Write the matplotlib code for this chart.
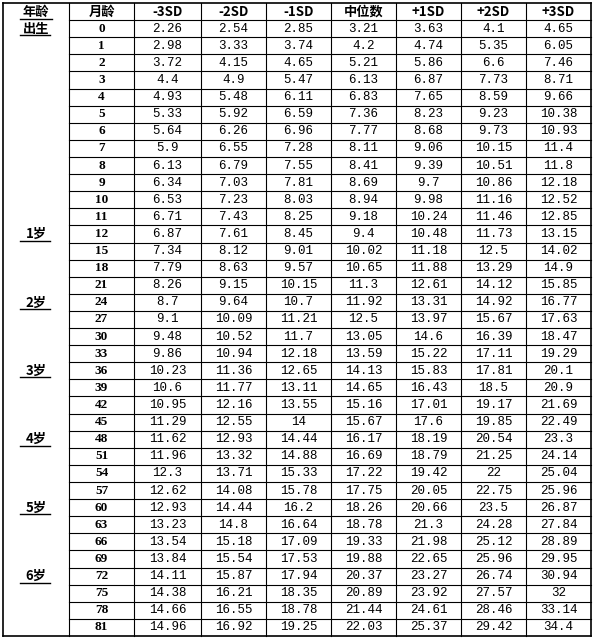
import matplotlib.pyplot as plt

plt.rcParams['font.family'] = ['Noto Sans CJK SC', 'DejaVu Sans']

headers = ['年龄', '月龄', '-3SD', '-2SD', '-1SD', '中位数', '+1SD', '+2SD', '+3SD']
months = [0, 1, 2, 3, 4, 5, 6, 7, 8, 9, 10, 11, 12, 15, 18, 21, 24, 27, 30, 33,
          36, 39, 42, 45, 48, 51, 54, 57, 60, 63, 66, 69, 72, 75, 78, 81]
year_labels = {0: '出生', 12: '1岁', 24: '2岁', 36: '3岁', 48: '4岁', 60: '5岁', 72: '6岁'}

sd_m3 = ['2.26', '2.98', '3.72', '4.4', '4.93', '5.33', '5.64', '5.9', '6.13', '6.34', '6.53', '6.71',
         '6.87', '7.34', '7.79', '8.26', '8.7', '9.1', '9.48', '9.86', '10.23', '10.6', '10.95', '11.29',
         '11.62', '11.96', '12.3', '12.62', '12.93', '13.23', '13.54', '13.84', '14.11', '14.38', '14.66', '14.96']
sd_m2 = ['2.54', '3.33', '4.15', '4.9', '5.48', '5.92', '6.26', '6.55', '6.79', '7.03', '7.23', '7.43',
         '7.61', '8.12', '8.63', '9.15', '9.64', '10.09', '10.52', '10.94', '11.36', '11.77', '12.16', '12.55',
         '12.93', '13.32', '13.71', '14.08', '14.44', '14.8', '15.18', '15.54', '15.87', '16.21', '16.55', '16.92']
sd_m1 = ['2.85', '3.74', '4.65', '5.47', '6.11', '6.59', '6.96', '7.28', '7.55', '7.81', '8.03', '8.25',
         '8.45', '9.01', '9.57', '10.15', '10.7', '11.21', '11.7', '12.18', '12.65', '13.11', '13.55', '14',
         '14.44', '14.88', '15.33', '15.78', '16.2', '16.64', '17.09', '17.53', '17.94', '18.35', '18.78', '19.25']
median = ['3.21', '4.2', '5.21', '6.13', '6.83', '7.36', '7.77', '8.11', '8.41', '8.69', '8.94', '9.18',
          '9.4', '10.02', '10.65', '11.3', '11.92', '12.5', '13.05', '13.59', '14.13', '14.65', '15.16', '15.67',
          '16.17', '16.69', '17.22', '17.75', '18.26', '18.78', '19.33', '19.88', '20.37', '20.89', '21.44', '22.03']
sd_p1 = ['3.63', '4.74', '5.86', '6.87', '7.65', '8.23', '8.68', '9.06', '9.39', '9.7', '9.98', '10.24',
         '10.48', '11.18', '11.88', '12.61', '13.31', '13.97', '14.6', '15.22', '15.83', '16.43', '17.01', '17.6',
         '18.19', '18.79', '19.42', '20.05', '20.66', '21.3', '21.98', '22.65', '23.27', '23.92', '24.61', '25.37']
sd_p2 = ['4.1', '5.35', '6.6', '7.73', '8.59', '9.23', '9.73', '10.15', '10.51', '10.86', '11.16', '11.46',
         '11.73', '12.5', '13.29', '14.12', '14.92', '15.67', '16.39', '17.11', '17.81', '18.5', '19.17', '19.85',
         '20.54', '21.25', '22', '22.75', '23.5', '24.28', '25.12', '25.96', '26.74', '27.57', '28.46', '29.42']
sd_p3 = ['4.65', '6.05', '7.46', '8.71', '9.66', '10.38', '10.93', '11.4', '11.8', '12.18', '12.52', '12.85',
         '13.15', '14.02', '14.9', '15.85', '16.77', '17.63', '18.47', '19.29', '20.1', '20.9', '21.69', '22.49',
         '23.3', '24.14', '25.04', '25.96', '26.87', '27.84', '28.89', '29.95', '30.94', '32', '33.14', '34.4']
value_cols = [sd_m3, sd_m2, sd_m1, median, sd_p1, sd_p2, sd_p3]

W, H = 594, 639
col_x = [3, 69, 134, 201, 266, 331, 396, 461, 526, 591]
top, bottom = 3, 636
n_rows = len(months) + 1
row_h = (bottom - top) / n_rows

fig = plt.figure(figsize=(W / 100, H / 100), dpi=100)
ax = fig.add_axes([0, 0, 1, 1])
ax.set_xlim(0, W)
ax.set_ylim(H, 0)
ax.axis('off')

# outer border and vertical lines
for x in col_x:
    ax.plot([x, x], [top, bottom], color='black', lw=1.2 if x in (3, 591) else 0.8)
ax.plot([3, 591], [top, top], color='black', lw=1.2)
ax.plot([3, 591], [bottom, bottom], color='black', lw=1.2)
# row lines (not in the first column)
for i in range(1, n_rows):
    y = top + i * row_h
    ax.plot([col_x[1], col_x[-1]], [y, y], color='black', lw=0.8)

def cx(j):
    return (col_x[j] + col_x[j + 1]) / 2

def cy(i):
    return top + (i + 0.5) * row_h

for j, h in enumerate(headers):
    ax.text(cx(j), cy(0), h, ha='center', va='center', fontsize=9.5, fontweight='bold',
            family=['Noto Sans CJK SC', 'DejaVu Sans'])
ax.plot([20, 52], [top + row_h - 1.5, top + row_h - 1.5], color='black', lw=1)

for i, m in enumerate(months):
    r = i + 1
    if m in year_labels:
        ax.text(cx(0), cy(r), year_labels[m], ha='center', va='center', fontsize=9.5,
                fontweight='bold', family=['Noto Sans CJK SC', 'DejaVu Sans'])
        ax.plot([20, 50], [top + (r + 1) * row_h - 2, top + (r + 1) * row_h - 2], color='black', lw=1)
    ax.text(cx(1), cy(r), str(m), ha='center', va='center', fontsize=9.5, fontweight='bold',
            family='Liberation Serif')
    for j, col in enumerate(value_cols):
        ax.text(cx(j + 2), cy(r), col[i], ha='center', va='center', fontsize=9,
                family='Liberation Mono')

fig.savefig('out.png', dpi=100, facecolor='white')
